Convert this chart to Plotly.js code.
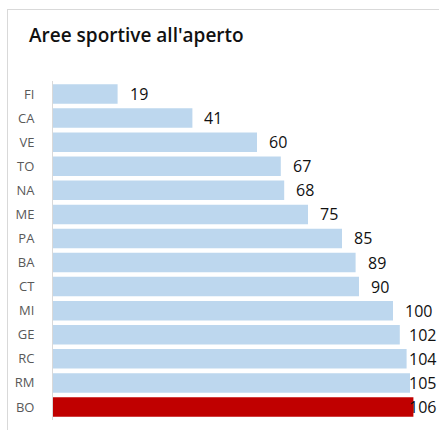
<!DOCTYPE html>
<html><head><meta charset="utf-8">
<script src="https://cdn.plot.ly/plotly-3.0.1.min.js"></script>
<style>
html,body{margin:0;padding:0;background:#fff;}
#frame{position:absolute;left:7px;top:9px;width:440px;height:430px;border:1px solid #d9d9d9;box-sizing:border-box;}
#chart{position:absolute;left:0;top:0;width:439px;height:430px;}
</style></head>
<body>
<div id="frame"></div>
<div id="chart"></div>
<script>
var categories = ["FI","CA","VE","TO","NA","ME","PA","BA","CT","MI","GE","RC","RM","BO"];
var values = [19,41,60,67,68,75,85,89,90,100,102,104,105,106];
var highlight = "BO";
var titleText = "Aree sportive all'aperto";

var colors = categories.map(function(c){ return c === highlight ? "#c00000" : "#bdd7ee"; });
var labelMax = 101.2;
var annotations = categories.map(function(c, i){
  return {x: Math.min(values[i], labelMax), y: c, xref:'x', yref:'y', text: String(values[i]),
    showarrow:false, xanchor:'left', xshift:10, font:{family:'Open Sans', size:16, color:'#111'}};
});

var trace = {type:'bar', orientation:'h', x: values, y: categories,
  marker:{color: colors}, hoverinfo:'none'};

var layout = {
  width:439, height:430,
  margin:{l:53, r:12, t:81, b:10},
  paper_bgcolor:'rgba(0,0,0,0)', plot_bgcolor:'rgba(0,0,0,0)',
  bargap:0.19,
  showlegend:false,
  title:{text:titleText, x:29/439, xanchor:'left', y:1-35/430, yanchor:'middle', xref:'container', yref:'container',
    font:{family:'Open Sans', size:19, weight:600, color:'#111'}},
  xaxis:{range:[0,110], showgrid:false, zeroline:false, showticklabels:false, ticks:'', fixedrange:true},
  yaxis:{autorange:'reversed', showline:true, linecolor:'#d9d9d9', linewidth:1, ticks:'',
    showgrid:false, tickfont:{family:'Open Sans', size:13, color:'#595959'}, ticklabelstandoff:15},
  annotations: annotations
};
Plotly.newPlot('chart', [trace], layout, {staticPlot:true, displayModeBar:false});
</script>
</body></html>
